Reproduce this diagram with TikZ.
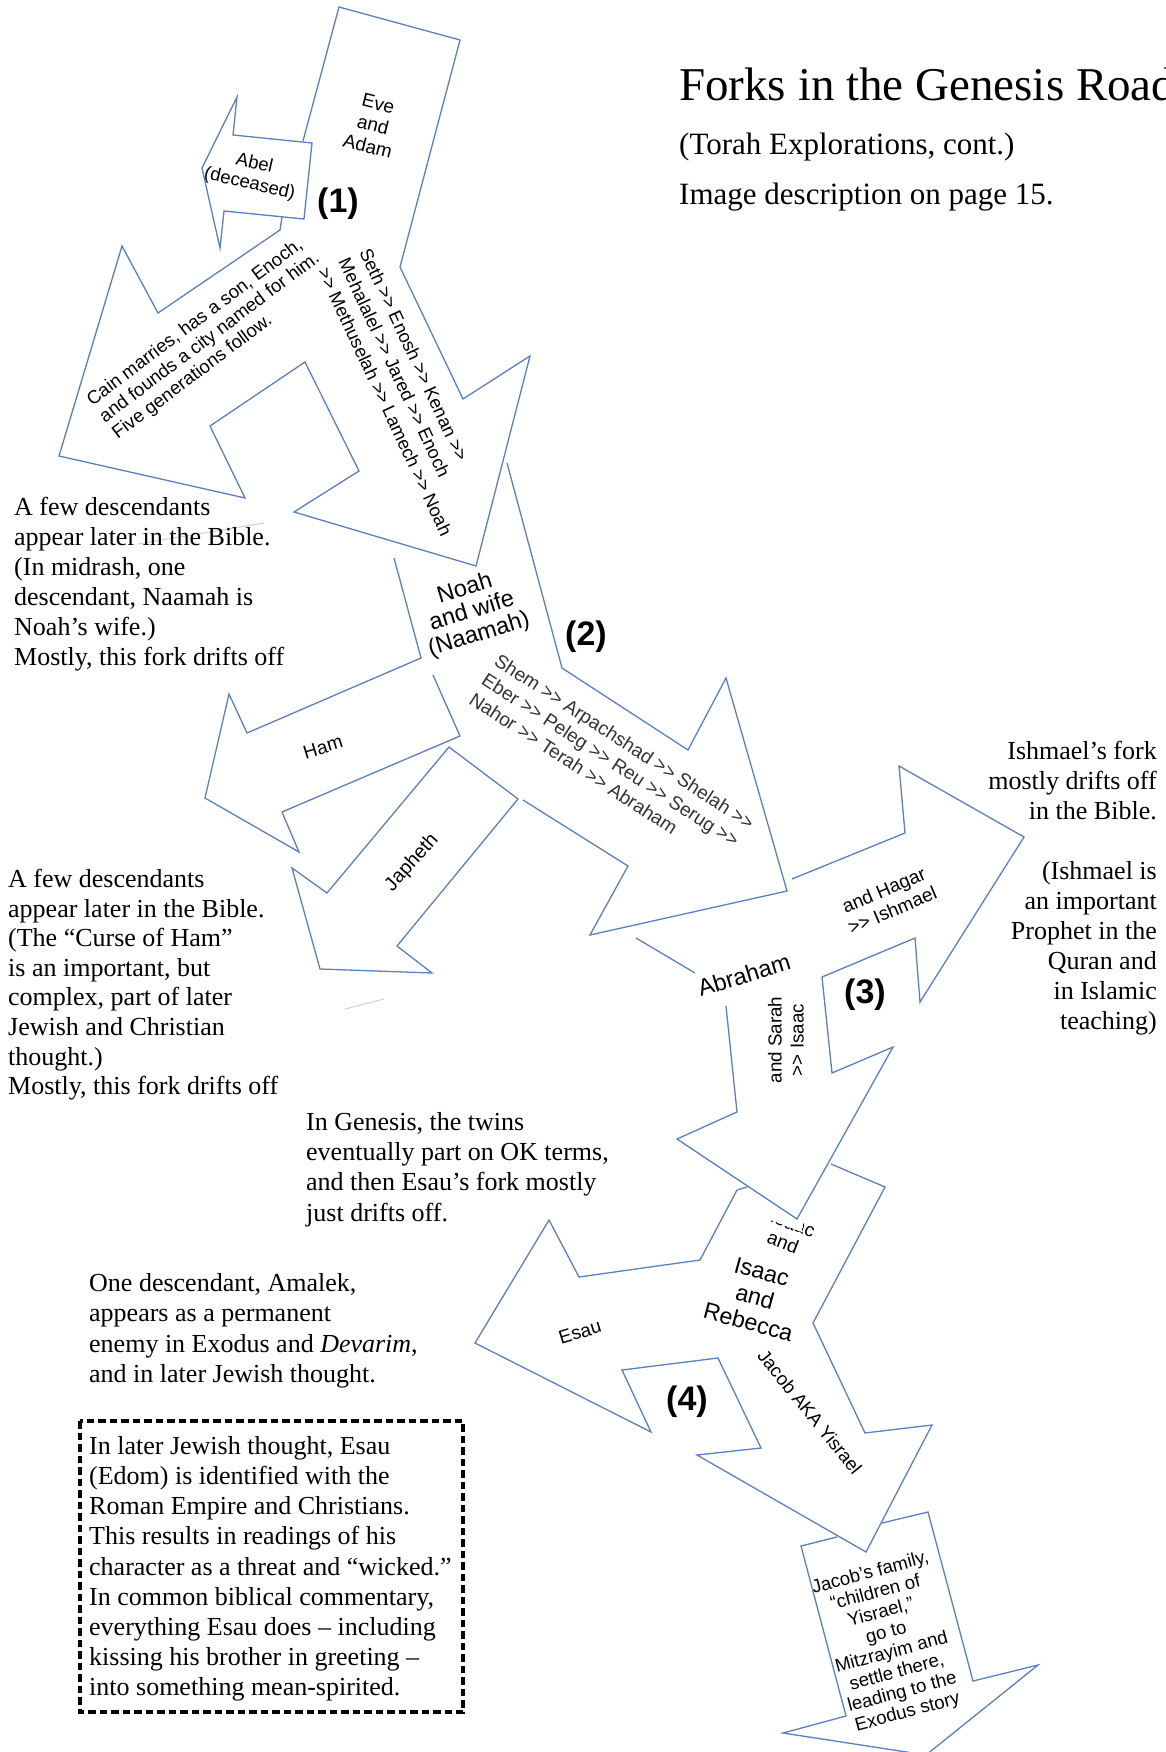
\documentclass[tikz,border=0pt]{standalone}
\usepackage{fontspec}
\setmainfont{Liberation Serif}
\newfontfamily\arialfam{Liberation Sans}
\newcommand\labfont[2]{\arialfam\fontsize{#1}{#2}\selectfont}
\newcommand\serfont[2]{\fontsize{#1}{#2}\selectfont}
\newcommand\twogt{>{}>}
\definecolor{arrowblue}{HTML}{5C80BC}
\tikzset{
  outline/.style={draw=arrowblue, line width=1.3pt, line join=miter},
  lab/.style={inner sep=0pt, align=center},
  num/.style={inner sep=0pt, font=\arialfam\bfseries\fontsize{34}{36}\selectfont},
  serif/.style={inner sep=0pt, align=left, font=\serfont{26}{30}},
  faint/.style={draw=gray!35, line width=1pt},
  dashbox/.style={draw=black, line width=3.2pt, dash pattern=on 7.5pt off 4pt}
}
\begin{document}
\begin{tikzpicture}[x=1pt,y=-1pt]
\useasboundingbox (0,0) rectangle (1166,1752);
\fill[white] (0,0) rectangle (1166,1752);

% partly hidden text above "Isaac and Rebecca"
\begin{scope}
\clip (740,1208) -- (802,1232) -- (803,1212) -- (840,1212) -- (840,1300) -- (740,1300) -- cycle;
\node[lab, font=\labfont{19}{22}, rotate=-21] (isaacfrag) at (793,1224) {Isaac};
\end{scope}
\node[lab, font=\labfont{19}{22}, rotate=-21] (andfrag) at (783,1242) {and};

% ---------- arrow outlines ----------
% Eve/Adam, Seth arrow and Cain arrow
\draw[outline] (282,217) -- (280,230) -- (158,313) -- (122,246) -- (59,456) -- (245,498)
  -- (210,426) -- (305,362) -- (359,471) -- (294,512) -- (476,566) -- (530,356)
  -- (463,399) -- (400,267) -- (460,40) -- (339,7) -- (303,141);
% Abel arrow
\draw[outline] (202,168) -- (237,97) -- (233,135) -- (312,143) -- (304,219) -- (224,211) -- (220,248) -- cycle;
% Noah box left and Ham arrow
\draw[outline] (394,558) -- (421,658) -- (247,733) -- (229,694) -- (205,798) -- (299,852)
  -- (282,812) -- (460,736) -- (433,675);
% Noah box right and Shem arrow
\draw[outline] (507,463) -- (562,668) -- (688,750) -- (726,678) -- (787,891) -- (590,935)
  -- (628,866) -- (523,800);
% Japheth arrow
\draw[outline] (449,747) -- (327,893) -- (292,868) -- (320,969) -- (432,973) -- (397,946) -- (518,799) -- cycle;
% Abraham: Ishmael and Isaac arrows
\draw[outline] (636,938) -- (695,973);
\draw[outline] (792,879) -- (905,833) -- (899,766) -- (1024,837) -- (920,1002) -- (915,938)
  -- (822,977) -- (832,1073) -- (893,1047) -- (797,1219) -- (677,1139) -- (737,1112) -- (726,1006);
% Isaac and Rebecca: Esau and Jacob arrows
\draw[outline] (747,1187) -- (737,1190) -- (700,1260) -- (579,1277) -- (549,1220) -- (475,1343)
  -- (651,1432) -- (622,1370) -- (718,1358) -- (761,1448) -- (697,1455) -- (866,1552)
  -- (932,1425) -- (865,1433) -- (813,1323) -- (885,1187) -- (831,1164);
% Jacob's family arrow
\draw[outline] (837,1537) -- (801,1546) -- (846,1716) -- (783,1733) -- (926,1755) -- (1038,1665)
  -- (973,1681) -- (928,1512) -- (882,1523);

% faint stray strokes
\draw[faint] (138,544) -- (264,523);
\draw[faint] (345,1009) -- (384,999);

% ---------- arrow labels ----------
\node[lab, font=\labfont{19}{22}, rotate=-14] (eve) at (373,125) {Eve\\and\\Adam};
\node[lab, font=\labfont{18.5}{21}, rotate=-13] (abel) at (252,174) {Abel\\(deceased)};
\node[num] (n1) at (338,204) {(1)};
\node[lab, align=left, font=\labfont{18.6}{21}, rotate=37] (cain) at (210,338)
  {Cain marries, has a son, Enoch,\\and founds a city named for him.\\Five generations follow.};
\node[lab, align=left, font=\labfont{18.3}{23}, rotate=-65] (seth) at (406,392)
  {Seth \twogt{} Enosh \twogt{} Kenan \twogt\\Mehalalel \twogt{} Jared \twogt{} Enoch\\\twogt{} Methuselah \twogt{} Lamech \twogt{} Noah};
\node[lab, font=\labfont{23.5}{24}, rotate=17] (noah) at (472,612) {Noah\\and wife\\(Naamah)};
\node[num] (n2) at (586,637) {(2)};
\node[lab, align=left, text=black!80, font=\labfont{19.1}{23}, rotate=-33] (shem) at (612,761)
  {Shem \twogt{} Arpachshad \twogt{} Shelah \twogt\\Eber \twogt{} Peleg \twogt{} Reu \twogt{} Serug \twogt\\Nahor \twogt{} Terah \twogt{} Abraham};
\node[lab, font=\labfont{19}{22}, rotate=17] (ham) at (323,747) {Ham};
\node[lab, font=\labfont{19.5}{22}, rotate=48] (japheth) at (412,863) {Japheth};
\node[lab, font=\labfont{23.5}{26}, rotate=17] (abraham) at (744,975) {Abraham};
\node[lab, font=\labfont{19}{22}, rotate=23] (hagar) at (888,900) {and Hagar\\\twogt{} Ishmael};
\node[lab, font=\labfont{18.8}{22}, rotate=90] (sarah) at (786,1040) {and Sarah\\\twogt{} Isaac};
\node[num] (n3) at (865,995) {(3)};
\node[lab, font=\labfont{23.2}{26}, rotate=-15] (rebecca) at (755,1297) {Isaac\\and\\Rebecca};
\node[lab, font=\labfont{19}{22}, rotate=17] (esau) at (580,1332) {Esau};
\node[lab, font=\labfont{18.6}{22}, rotate=-51] (jacob) at (810,1412) {Jacob AKA Yisrael};
\node[num] (n4) at (687,1402) {(4)};
\node[lab, font=\labfont{18.6}{20.6}, rotate=15] (family) at (889,1643)
  {Jacob’s family,\\“children of\\Yisrael,”\\go to\\Mitzrayim and\\settle there,\\leading to the\\Exodus story};

% ---------- titles and notes ----------
\node[inner sep=0pt, anchor=base west, font=\serfont{47}{50}] (title) at (679,101) {Forks in the Genesis Road};
\node[inner sep=0pt, anchor=base west, font=\serfont{31}{34}] (subtitle) at (679,155) {(Torah Explorations, cont.)};
\node[inner sep=0pt, anchor=base west, font=\serfont{31}{34}] (descr) at (679,205) {Image description on page 15.};

\node[serif, anchor=north west] (noteone) at (14,497)
  {A few descendants\\appear later in the Bible.\\(In midrash, one\\descendant, Naamah is\\Noah’s wife.)\\Mostly, this fork drifts off};
\node[serif, anchor=north west, font=\serfont{26}{29.6}] (notetwo) at (8,869)
  {A few descendants\\appear later in the Bible.\\(The “Curse of Ham”\\is an important, but\\complex, part of later\\Jewish and Christian\\thought.)\\Mostly, this fork drifts off};
\node[serif, anchor=north east, align=right] (notethree) at (1157,741)
  {Ishmael’s fork\\mostly drifts off\\in the Bible.\\[30pt](Ishmael is\\an important\\Prophet in the\\Quran and\\in Islamic\\teaching)};
\node[serif, anchor=north west, font=\serfont{26}{30.3}] (notefour) at (306,1112)
  {In Genesis, the twins\\eventually part on OK terms,\\and then Esau’s fork mostly\\just drifts off.};
\node[serif, anchor=north west, font=\serfont{26}{30.5}] (notefive) at (89,1273)
  {One descendant, Amalek,\\appears as a permanent\\enemy in Exodus and \textit{Devarim},\\and in later Jewish thought.};
\node[serif, anchor=north west, font=\serfont{26}{30.2}] (notesix) at (89,1436)
  {In later Jewish thought, Esau\\(Edom) is identified with the\\Roman Empire and Christians.\\This results in readings of his\\character as a threat and “wicked.”\\In common biblical commentary,\\everything Esau does – including\\kissing his brother in greeting –\\into something mean-spirited.};
\draw[dashbox] (80,1421) rectangle (463,1712);
\end{tikzpicture}
\end{document}
